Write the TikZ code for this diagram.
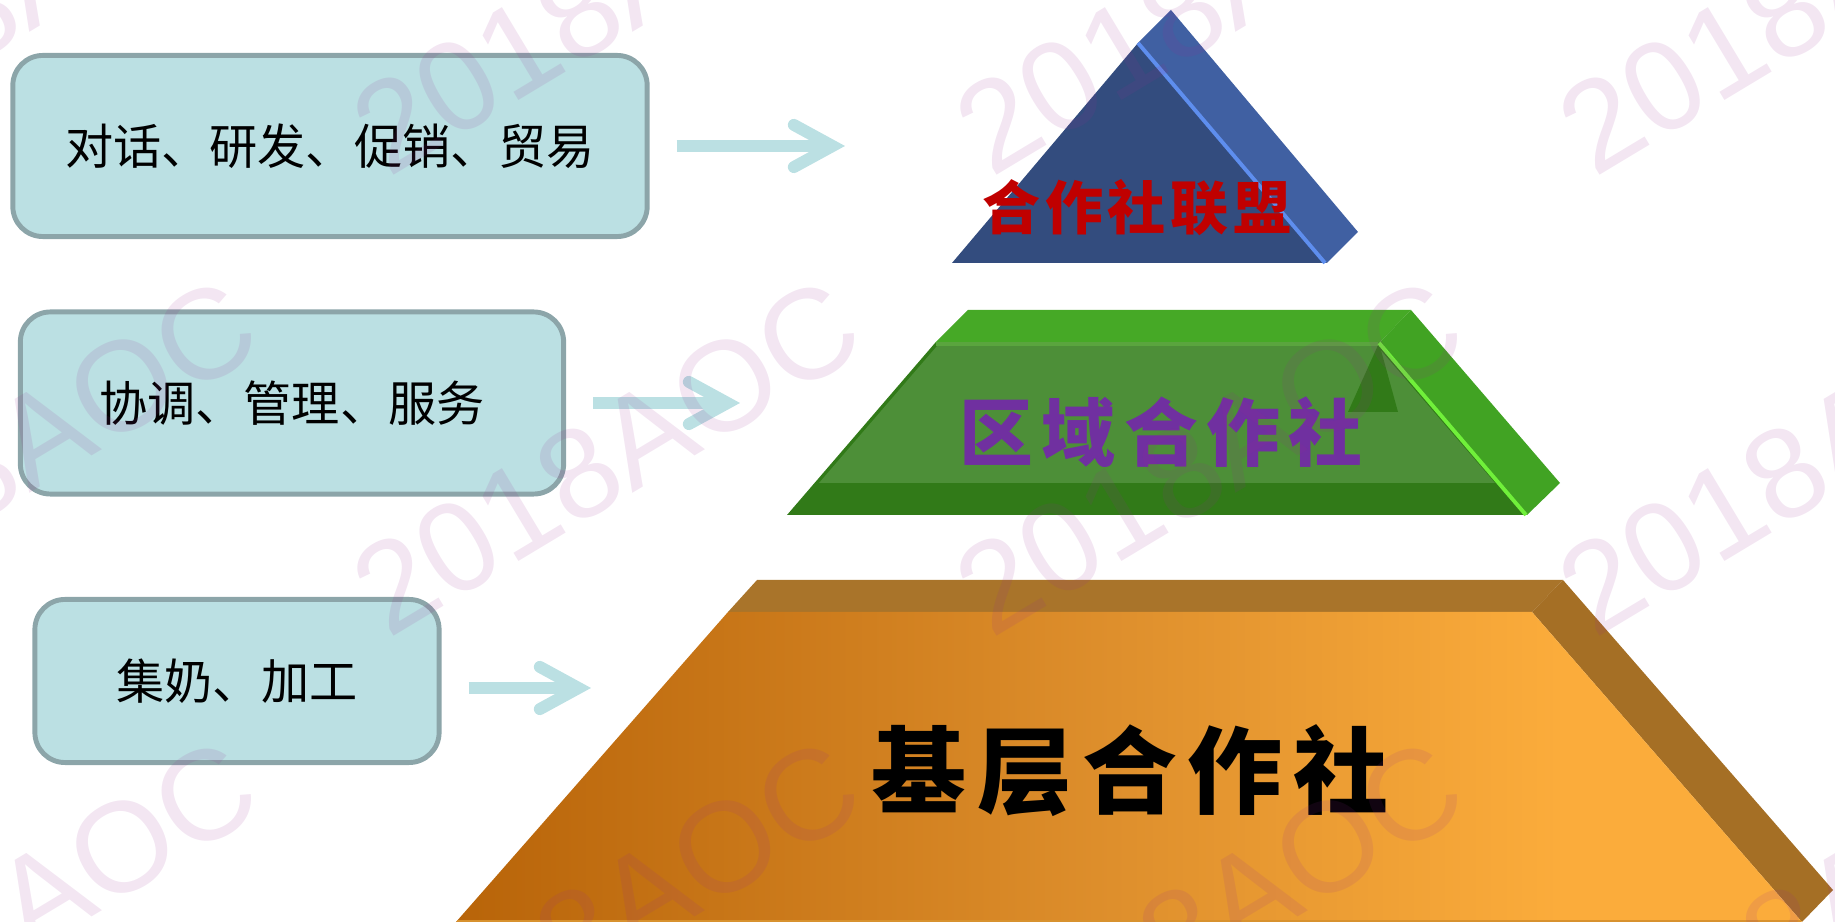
\documentclass[tikz,border=0pt]{standalone}
\usepackage{fontspec}
\usepackage{xcolor}
\usetikzlibrary{arrows.meta}
\setmainfont{Noto Sans CJK SC}
\newfontfamily\wmfont{Liberation Sans}
\definecolor{boxfill}{HTML}{BBE0E3}
\definecolor{boxline}{HTML}{8CA5A9}
\definecolor{wmcolor}{HTML}{962A91}
\definecolor{blueside}{HTML}{4060A2}
\definecolor{bluefront}{HTML}{334C7E}
\definecolor{blueedge}{HTML}{5E8EEE}
\definecolor{greentop}{HTML}{46A926}
\definecolor{greenside}{HTML}{41A323}
\definecolor{greenface}{HTML}{4D8F38}
\definecolor{greendark}{HTML}{317A18}
\definecolor{greenstrip}{HTML}{5AA53E}
\definecolor{greenedge}{HTML}{70F03A}
\definecolor{orangetop}{HTML}{A9742A}
\definecolor{orangeside}{HTML}{A56F25}
\definecolor{orangeleft}{HTML}{B86409}
\definecolor{orangemid}{HTML}{DF902D}
\definecolor{orangeright}{HTML}{FBAC3B}
\definecolor{orangeline}{HTML}{D8922F}
\definecolor{uniontext}{HTML}{C00000}
\definecolor{areatext}{HTML}{7030A0}
\pgfdeclarehorizontalshading{orangefade}{100bp}{color(0bp)=(orangeleft); color(25bp)=(orangeleft);
  color(50bp)=(orangemid); color(66bp)=(orangeright); color(100bp)=(orangeright)}
\tikzset{
  tagbox/.style={draw=boxline,fill=boxfill,line width=1.4pt,rounded corners=0.3cm,
    font=\fontsize{13.7}{16}\selectfont},
  flowarrow/.style={boxfill,line width=3.4pt,shorten <=0.27cm,
    -{Straight Barb[length=11pt,width=12pt,line cap=round,line join=miter]}},
  titlenode/.style={font=\bfseries\fontsize{#1}{#1}\selectfont,inner sep=0pt},
  wmark/.style={wmcolor,opacity=0.118,rotate=31,inner sep=0pt,anchor=base,
    font=\wmfont\fontsize{36.4}{36.4}\selectfont}
}
\begin{document}
\begin{tikzpicture}[x=0.01cm,y=-0.01cm]
  \useasboundingbox (0,0) rectangle (1835,922);
  \clip (0,0) rectangle (1835,922);

  % top block
  \fill[blueside] (1138,43) -- (1171,10) -- (1358,232) -- (1327,263) -- cycle;
  \fill[bluefront] (952,263) -- (1138,43) -- (1327,263) -- cycle;
  \draw[blueedge,line width=1.1pt] (1138,43) -- (1325,263);

  % middle block
  \fill[greentop] (935,343) -- (968,310) -- (1411,310) -- (1379,343) -- cycle;
  \fill[greenside] (1379,343) -- (1411,310) -- (1560,483) -- (1527,515) -- cycle;
  \fill[greendark] (787,515) -- (935,343) -- (1379,343) -- (1527,515) -- cycle;
  \fill[greenface] (819,483) -- (937,346) -- (1377,346) -- (1495,483) -- cycle;
  \fill[greendark] (1379,343) -- (1348,412) -- (1398,412) -- cycle;
  \draw[greenstrip,line width=0.9pt] (936,344) -- (1378,344);
  \draw[greenedge,line width=1.1pt] (1379,343) -- (1526,515);

  % bottom block
  \fill[orangetop] (728,612) -- (757,580) -- (1563,580) -- (1532,612) -- cycle;
  \fill[orangeside] (1532,612) -- (1563,580) -- (1833,890) -- (1802,922) -- cycle;
  \shade[shading=orangefade] (456,922) -- (728,612) -- (1532,612) -- (1802,922) -- cycle;
  \draw[orangeline,line width=0.3pt] (457,921) -- (1801,921);

  % block titles
  \node[titlenode=16.5,uniontext] (uniontitle) at (1137,208) {合\hspace{1.3pt}作\hspace{1.3pt}社\hspace{1.3pt}联\hspace{1.3pt}盟};
  \node[titlenode=21,areatext] (areatitle) at (1161,432) {区\hspace{2.4pt}域\hspace{2.4pt}合\hspace{2.4pt}作\hspace{2.4pt}社};
  \node[titlenode=27,black] (basetitle) at (1130,771) {基\hspace{3pt}层\hspace{3pt}合\hspace{3pt}作\hspace{3pt}社};

  % left boxes
  \node[tagbox,minimum width=6.34cm,minimum height=1.81cm] (talkbox) at (330,146) {对话、研发、促销、贸易};
  \node[tagbox,minimum width=5.43cm,minimum height=1.82cm] (servebox) at (292,403) {协调、管理、服务};
  \node[tagbox,minimum width=4.04cm,minimum height=1.63cm] (milkbox) at (237,681) {集奶、加工};

  \coordinate (talktip) at (845,146);
  \coordinate (servetip) at (740,403);
  \coordinate (milktip) at (591,688);
  \draw[flowarrow] (talkbox.east) -- (talktip);
  \draw[flowarrow] (servebox.east) -- (servetip);
  \draw[flowarrow] (milkbox.east |- milktip) -- (milktip);

  % watermark
  \foreach \i in {-1,0,1,2,3}
    \foreach \j in {-1,0,1,2}
      \node[wmark] (mark\i\j) at ({26+603*\i},{495+461*\j}) {2018AOC};
\end{tikzpicture}
\end{document}
